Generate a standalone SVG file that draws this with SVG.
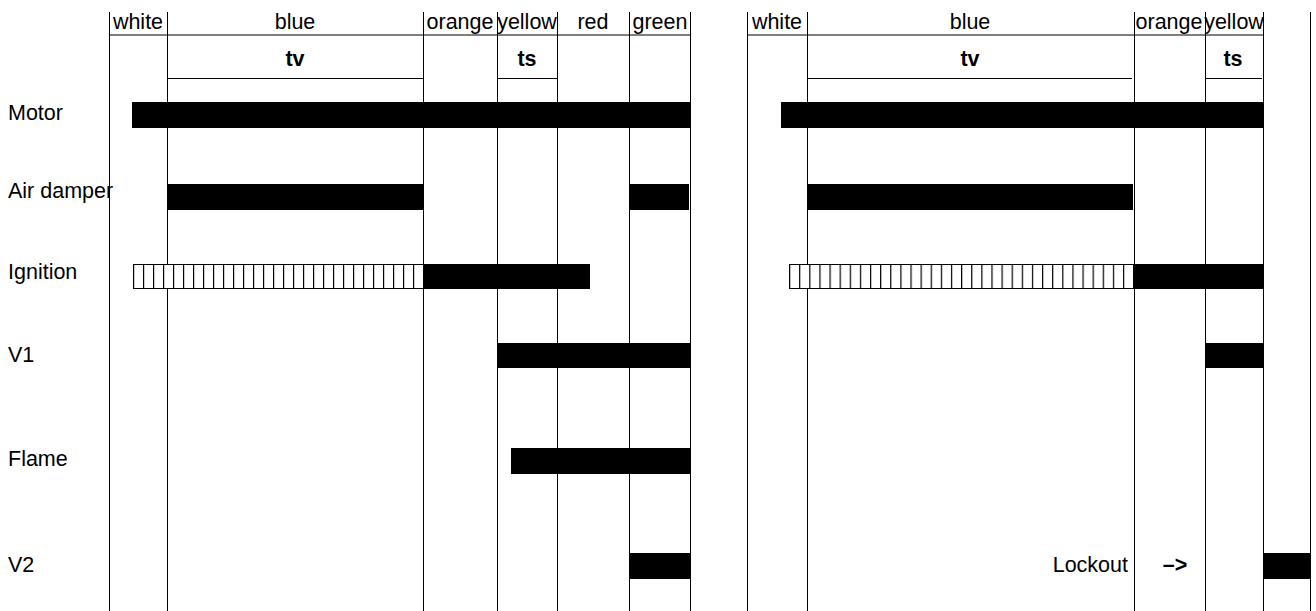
<svg xmlns="http://www.w3.org/2000/svg" width="1316" height="611" viewBox="0 0 1316 611">
<style>
text{font-family:"Liberation Sans",Arial,Helvetica,sans-serif;font-size:21.5px;fill:#000}
.h{text-anchor:middle}
.b{font-weight:bold}
.v{stroke:#000;stroke-width:1}
.hl{stroke:#000;stroke-width:1}
.bar{fill:#000}
.hatch{stroke:#000;stroke-width:1}
</style>
<defs>
<pattern id="hatchL" patternUnits="userSpaceOnUse" x="133" y="264" width="10" height="25">
<rect width="10" height="25" fill="#fff"/>
<line x1="0.6" y1="0" x2="0.6" y2="25" stroke="#000" stroke-width="1.2"/>
</pattern>
<pattern id="hatchR" patternUnits="userSpaceOnUse" x="789" y="264" width="10.12" height="25">
<rect width="10.12" height="25" fill="#fff"/>
<line x1="0.6" y1="0" x2="0.6" y2="25" stroke="#000" stroke-width="1.2"/>
</pattern>
</defs>
<rect width="1316" height="611" fill="#fff"/>

<g id="grid">
<line class="v" x1="109.5" y1="12" x2="109.5" y2="611"/>
<line class="v" x1="167.5" y1="12" x2="167.5" y2="611"/>
<line class="v" x1="423.5" y1="12" x2="423.5" y2="611"/>
<line class="v" x1="497.5" y1="12" x2="497.5" y2="611"/>
<line class="v" x1="557.5" y1="12" x2="557.5" y2="611"/>
<line class="v" x1="629.5" y1="12" x2="629.5" y2="611"/>
<line class="v" x1="690.5" y1="12" x2="690.5" y2="611"/>
<line class="v" x1="747.5" y1="12" x2="747.5" y2="611"/>
<line class="v" x1="807.5" y1="12" x2="807.5" y2="611"/>
<line class="v" x1="1134.5" y1="12" x2="1134.5" y2="611"/>
<line class="v" x1="1205.5" y1="12" x2="1205.5" y2="611"/>
<line class="v" x1="1263.5" y1="12" x2="1263.5" y2="611"/>
<line class="v" x1="1310.5" y1="12" x2="1310.5" y2="611"/>
<line class="hl" x1="109" y1="35" x2="690" y2="35"/>
<line class="hl" x1="747" y1="35" x2="1263" y2="35"/>
<line class="hl" x1="167" y1="78.5" x2="423" y2="78.5"/>
<line class="hl" x1="497" y1="78.5" x2="557" y2="78.5"/>
<line class="hl" x1="807" y1="78.5" x2="1132" y2="78.5"/>
<line class="hl" x1="1205" y1="78.5" x2="1262" y2="78.5"/>
</g>

<g id="header">
<text class="h" x="138" y="29">white</text>
<text class="h" x="295" y="29">blue</text>
<text class="h" x="460" y="29">orange</text>
<text class="h" x="527" y="29">yellow</text>
<text class="h" x="593" y="29">red</text>
<text class="h" x="660" y="29">green</text>
<text class="h b" x="295" y="66">tv</text>
<text class="h b" x="527" y="66">ts</text>
<text class="h" x="777" y="29">white</text>
<text class="h" x="970" y="29">blue</text>
<text class="h" x="1169" y="29">orange</text>
<text class="h" x="1234" y="29">yellow</text>
<text class="h b" x="970" y="66">tv</text>
<text class="h b" x="1233" y="66">ts</text>
</g>

<g id="labels">
<text x="8" y="120">Motor</text>
<text x="8" y="198">Air damper</text>
<text x="8" y="279">Ignition</text>
<text x="8" y="362">V1</text>
<text x="8" y="466">Flame</text>
<text x="8" y="572">V2</text>
</g>

<g id="motor">
<rect class="bar" x="132" y="102" width="558" height="26"/>
<rect class="bar" x="781" y="102" width="482" height="26"/>
</g>

<g id="air-damper">
<rect class="bar" x="167" y="184" width="256" height="26"/>
<rect class="bar" x="629" y="184" width="60" height="26"/>
<rect class="bar" x="807" y="184" width="326" height="26"/>
</g>

<g id="ignition">
<rect x="133.5" y="264.5" width="290" height="24" fill="url(#hatchL)" class="hatch"/>
<rect class="bar" x="423" y="264" width="167" height="25"/>
<rect x="789.5" y="264.5" width="344" height="24" fill="url(#hatchR)" class="hatch"/>
<rect class="bar" x="1133" y="264" width="130" height="25"/>
</g>

<g id="v1">
<rect class="bar" x="497" y="343" width="193" height="25"/>
<rect class="bar" x="1205" y="343" width="58" height="25"/>
</g>

<g id="flame">
<rect class="bar" x="511" y="448" width="179" height="26"/>
</g>

<g id="v2">
<rect class="bar" x="629" y="553" width="61" height="26"/>
<rect class="bar" x="1263" y="553" width="47" height="26"/>
<text x="1128" y="572" text-anchor="end">Lockout</text>
<text class="h b" x="1175" y="572">–&gt;</text>
</g>
</svg>
